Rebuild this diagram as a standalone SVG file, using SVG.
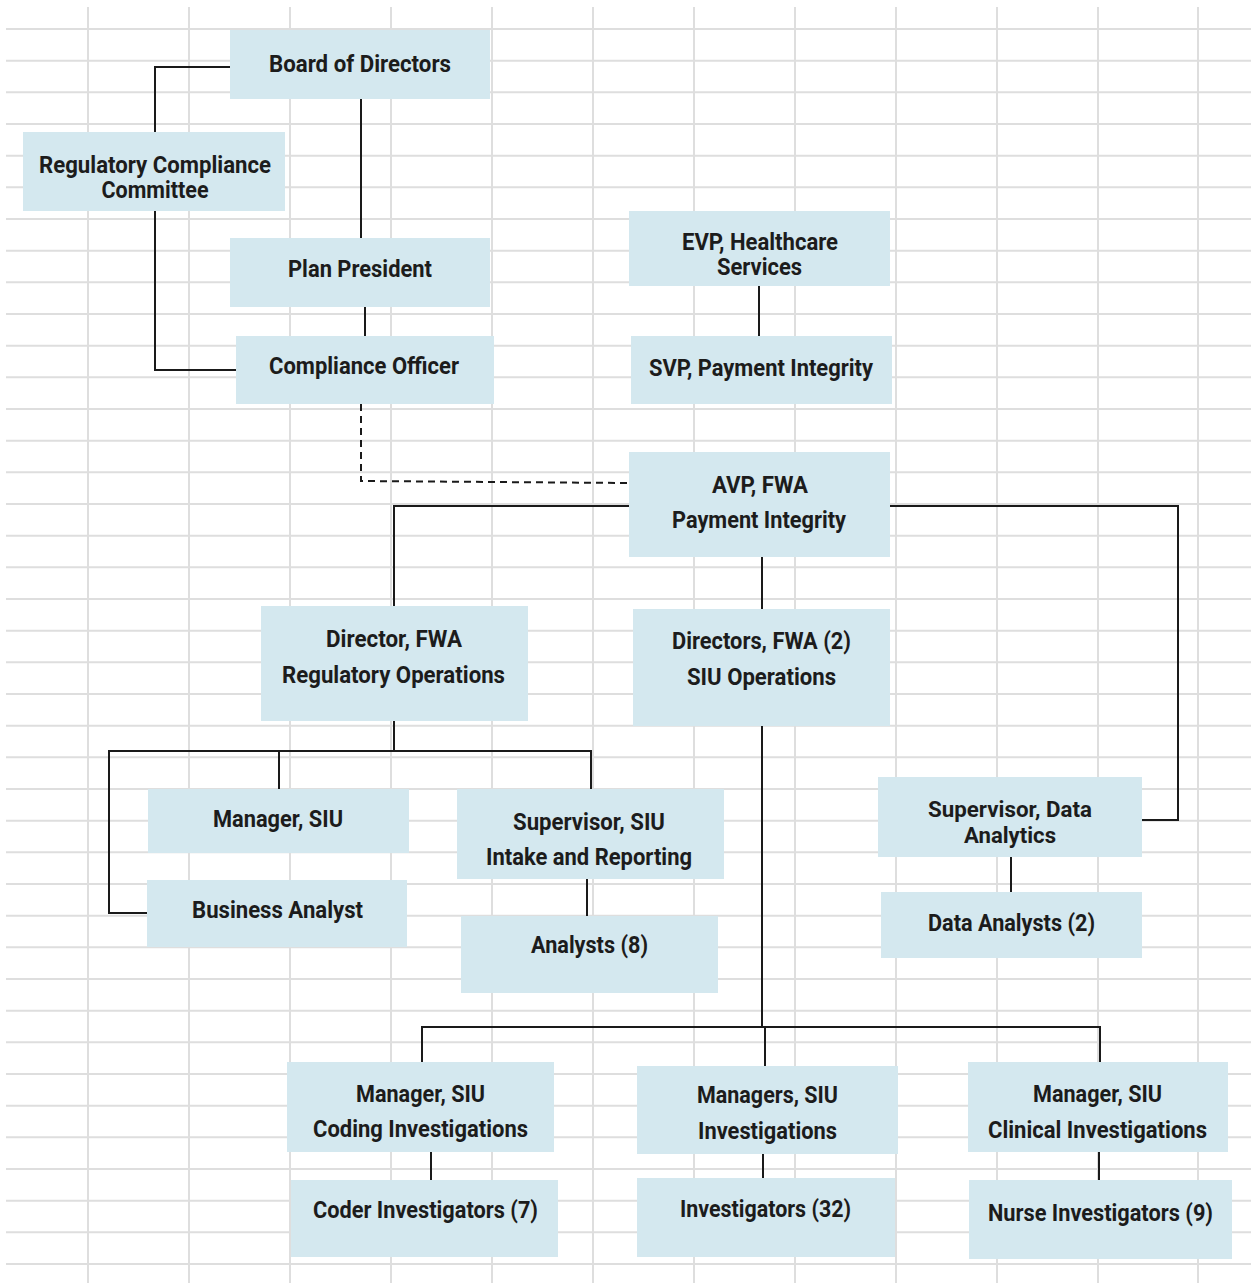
<svg xmlns="http://www.w3.org/2000/svg" width="1251" height="1283" viewBox="0 0 1251 1283">
<style>
.grid{stroke:#dedede;stroke-width:2;fill:none}
.box{fill:#d4e8ef}
.t{font-family:Roboto,"Liberation Sans",sans-serif;font-weight:700;font-size:23px;fill:#1c1c1c;text-anchor:middle}
.s{font-size:22px}
.c{stroke:#1a1a1a;stroke-width:2;fill:none}
.d{stroke:#1a1a1a;stroke-width:2;fill:none;stroke-dasharray:7 5}
</style>
<rect width="1251" height="1283" fill="#ffffff"/>
<g id="grid">
<path class="grid" d="M6 29H1251M6 60.7H1251M6 92.3H1251M6 124H1251M6 155.7H1251M6 187.3H1251M6 219H1251M6 250.7H1251M6 282.3H1251M6 314H1251M6 345.7H1251M6 377.3H1251M6 409H1251M6 440.7H1251M6 472.3H1251M6 504H1251M6 535.7H1251M6 567.3H1251M6 599H1251M6 630.7H1251M6 662.3H1251M6 694H1251M6 725.7H1251M6 757.3H1251M6 789H1251M6 820.7H1251M6 852.3H1251M6 884H1251M6 915.7H1251M6 947.3H1251M6 979H1251M6 1010.7H1251M6 1042.3H1251M6 1074H1251M6 1105.7H1251M6 1137.3H1251M6 1169H1251M6 1200.7H1251M6 1232.3H1251M6 1264H1251"/>
<path class="grid" d="M88 7V1283M189 7V1283M290 7V1283M391 7V1283M492 7V1283M593 7V1283M694 7V1283M795 7V1283M896 7V1283M997 7V1283M1098 7V1283M1198 7V1283"/>
</g>
<g id="connectors">
<path class="c" d="M230 67H155V132"/>
<path class="c" d="M155 211V370H236"/>
<path class="c" d="M361 99V238"/>
<path class="c" d="M365 307V336"/>
<path class="d" d="M361 404V481L629 483"/>
<path class="c" d="M759 286V336"/>
<path class="c" d="M629 506H394V606"/>
<path class="c" d="M890 506H1178V820H1142"/>
<path class="c" d="M762 557V609"/>
<path class="c" d="M762 726V1027"/>
<path class="c" d="M422 1062V1027H1100V1062"/>
<path class="c" d="M765 1027V1066"/>
<path class="c" d="M394 721V751"/>
<path class="c" d="M147 913H109V751H591V789"/>
<path class="c" d="M279 751V789"/>
<path class="c" d="M587 879V916"/>
<path class="c" d="M1011 857V892"/>
<path class="c" d="M431 1152V1180"/>
<path class="c" d="M763 1154V1178"/>
<path class="c" d="M1099 1152V1180"/>
</g>
<g id="board"><rect class="box" x="230" y="30" width="260" height="69"/><text class="t" x="360" y="72" textLength="182" lengthAdjust="spacingAndGlyphs">Board of Directors</text></g>
<g id="rcc"><rect class="box" x="23" y="132" width="262" height="79"/><text class="t" x="155" y="173" textLength="232" lengthAdjust="spacingAndGlyphs">Regulatory Compliance</text><text class="t" x="155" y="198" textLength="107" lengthAdjust="spacingAndGlyphs">Committee</text></g>
<g id="plan-president"><rect class="box" x="230" y="238" width="260" height="69"/><text class="t" x="360" y="277" textLength="144" lengthAdjust="spacingAndGlyphs">Plan President</text></g>
<g id="compliance-officer"><rect class="box" x="236" y="336" width="258" height="68"/><text class="t" x="364" y="374" textLength="190" lengthAdjust="spacingAndGlyphs">Compliance Officer</text></g>
<g id="evp"><rect class="box" x="629" y="211" width="261" height="75"/><text class="t" x="760" y="250" textLength="156" lengthAdjust="spacingAndGlyphs">EVP, Healthcare</text><text class="t" x="759.5" y="275" textLength="85" lengthAdjust="spacingAndGlyphs">Services</text></g>
<g id="svp"><rect class="box" x="631" y="336" width="261" height="68"/><text class="t" x="761" y="376" textLength="224" lengthAdjust="spacingAndGlyphs">SVP, Payment Integrity</text></g>
<g id="avp"><rect class="box" x="629" y="452" width="261" height="105"/><text class="t" x="760" y="493" textLength="96" lengthAdjust="spacingAndGlyphs">AVP, FWA</text><text class="t" x="759" y="528" textLength="174" lengthAdjust="spacingAndGlyphs">Payment Integrity</text></g>
<g id="directors-siu"><rect class="box" x="633" y="609" width="257" height="117"/><text class="t" x="761.5" y="649" textLength="179" lengthAdjust="spacingAndGlyphs">Directors, FWA (2)</text><text class="t" x="761.5" y="685" textLength="149" lengthAdjust="spacingAndGlyphs">SIU Operations</text></g>
<g id="director-reg"><rect class="box" x="261" y="606" width="267" height="115"/><text class="t" x="394" y="647" textLength="136" lengthAdjust="spacingAndGlyphs">Director, FWA</text><text class="t" x="393.5" y="683" textLength="223" lengthAdjust="spacingAndGlyphs">Regulatory Operations</text></g>
<g id="manager-siu"><rect class="box" x="148" y="789" width="261" height="64"/><text class="t" x="278" y="827" textLength="130" lengthAdjust="spacingAndGlyphs">Manager, SIU</text></g>
<g id="business-analyst"><rect class="box" x="147" y="880" width="260" height="67"/><text class="t" x="277.5" y="918" textLength="171" lengthAdjust="spacingAndGlyphs">Business Analyst</text></g>
<g id="supervisor-siu"><rect class="box" x="457" y="789" width="267" height="90"/><text class="t" x="589" y="830" textLength="152" lengthAdjust="spacingAndGlyphs">Supervisor, SIU</text><text class="t" x="589" y="865" textLength="206" lengthAdjust="spacingAndGlyphs">Intake and Reporting</text></g>
<g id="analysts"><rect class="box" x="461" y="916" width="257" height="77"/><text class="t" x="589.5" y="953" textLength="117" lengthAdjust="spacingAndGlyphs">Analysts (8)</text></g>
<g id="supervisor-data"><rect class="box" x="878" y="777" width="264" height="80"/><text class="t s" x="1010" y="817" textLength="164" lengthAdjust="spacingAndGlyphs">Supervisor, Data</text><text class="t s" x="1010" y="843" textLength="92" lengthAdjust="spacingAndGlyphs">Analytics</text></g>
<g id="data-analysts"><rect class="box" x="881" y="892" width="261" height="66"/><text class="t" x="1011.5" y="931" textLength="167" lengthAdjust="spacingAndGlyphs">Data Analysts (2)</text></g>
<g id="manager-coding"><rect class="box" x="287" y="1062" width="267" height="90"/><text class="t" x="420.5" y="1102" textLength="129" lengthAdjust="spacingAndGlyphs">Manager, SIU</text><text class="t" x="420.5" y="1137" textLength="215" lengthAdjust="spacingAndGlyphs">Coding Investigations</text></g>
<g id="coder-investigators"><rect class="box" x="291" y="1180" width="267" height="77"/><text class="t" x="425.5" y="1218" textLength="225" lengthAdjust="spacingAndGlyphs">Coder Investigators (7)</text></g>
<g id="managers-investigations"><rect class="box" x="637" y="1066" width="261" height="88"/><text class="t" x="767.5" y="1103" textLength="141" lengthAdjust="spacingAndGlyphs">Managers, SIU</text><text class="t" x="767.5" y="1139" textLength="139" lengthAdjust="spacingAndGlyphs">Investigations</text></g>
<g id="investigators"><rect class="box" x="637" y="1178" width="258" height="79"/><text class="t" x="765.5" y="1217" textLength="171" lengthAdjust="spacingAndGlyphs">Investigators (32)</text></g>
<g id="manager-clinical"><rect class="box" x="968" y="1062" width="260" height="90"/><text class="t" x="1097.5" y="1102" textLength="129" lengthAdjust="spacingAndGlyphs">Manager, SIU</text><text class="t" x="1097.5" y="1138" textLength="219" lengthAdjust="spacingAndGlyphs">Clinical Investigations</text></g>
<g id="nurse-investigators"><rect class="box" x="969" y="1180" width="263" height="79"/><text class="t" x="1100.5" y="1221" textLength="225" lengthAdjust="spacingAndGlyphs">Nurse Investigators (9)</text></g>
</svg>
